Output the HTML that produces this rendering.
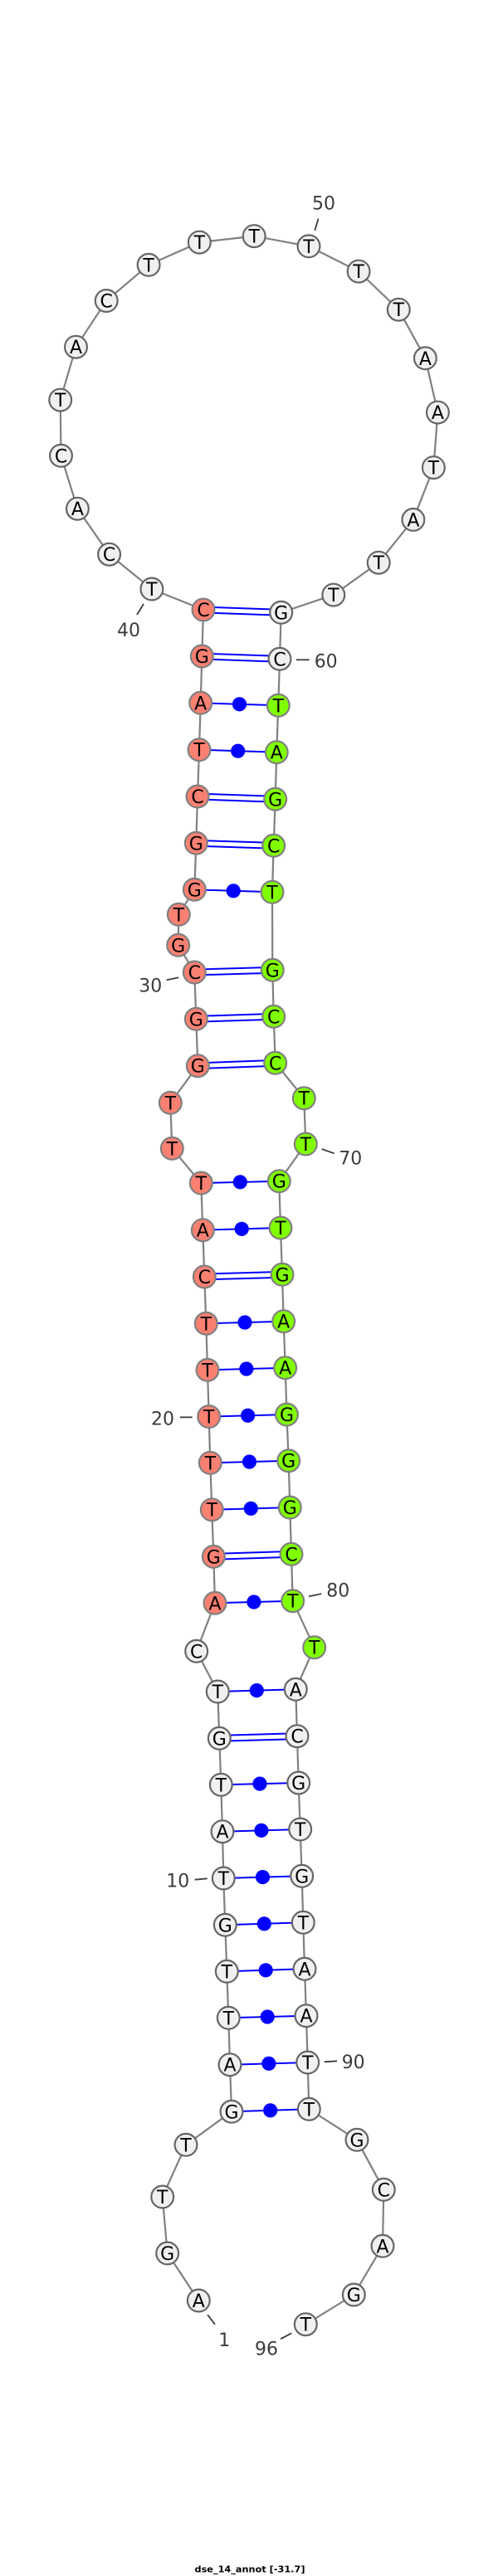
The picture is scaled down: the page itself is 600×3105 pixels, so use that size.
<!DOCTYPE html>
<html><head><meta charset="utf-8"><style>
html,body{margin:0;padding:0;background:#fff;width:600px;height:3105px;overflow:hidden}
svg{display:block}
.b{fill:none;stroke:#808080;stroke-width:2.2}
.p{stroke:#0000ff;stroke-width:2;fill:none}
.d{fill:#0000ff;stroke:none}
.n circle{stroke-width:2.2}
.w circle{fill:#f0f0f0;stroke:#666}
.s circle{fill:#fa8072;stroke:#808080}
.g circle{fill:#7fff00;stroke:#808080}
.n text{font:22px "DejaVu Sans",sans-serif;fill:#000;text-anchor:middle}
.l text{font:22px "DejaVu Sans",sans-serif;fill:#3c3c3c;text-anchor:middle}
.l line{stroke:#3c3c3c;stroke-width:1.8}
.t{font:bold 10.5px "DejaVu Sans",sans-serif;fill:#000}
</style></head><body>
<svg width="600" height="3105" viewBox="0 0 600 3105" xmlns="http://www.w3.org/2000/svg">
<polyline class="b" points="239.3,2773 201.7,2716 195.7,2648 224,2585.3 279,2545.3 277,2488.7 275.3,2432.3 273.3,2376.3 271.3,2320.3 269.3,2264 268,2207.7 266.3,2151.3 264.3,2095.3 262.3,2039 236.7,1990.3 259,1932.3 257.3,1876.3 255.3,1819.7 253.3,1763.3 251.7,1707.5 250,1651.3 248.3,1595.3 246.3,1539 244.3,1482.7 242.3,1426 207.3,1384.3 205.3,1329.3 238.3,1284.7 236.3,1228.3 234.3,1172 214.7,1139.3 215.3,1102.3 234.3,1072.3 236.3,1016.3 238,960 240,903.7 241.7,847.3 243.3,791 245,735 182.9,710 131.6,668.2 93.4,613.2 73.5,549.3 72.7,482.1 91.5,418.2 128.2,362.5 179.1,319.3 240.3,292.1 306.2,284.6 372,296.8 432.1,327.1 480.3,373.2 512.4,431.8 527.4,497.1 522.4,563.6 497.9,626.4 456.2,678.2 401.8,717.1 338.7,738.3 337,794.3 335.3,850.3 333.3,906.7 331.7,963.3 329.7,1019.3 328,1075.3 328.3,1169.3 329.7,1225.3 331.7,1281.3 366.3,1323.7 368.3,1379 336.3,1423.7 338,1480 340,1536.3 341.7,1592.7 343.7,1648.7 345.5,1705 347.7,1760.7 349.3,1817 351,1873.3 352.7,1929.7 378.7,1985.7 356.3,2036.3 358,2092.7 359.7,2149 361.7,2205 363.7,2261.3 365.3,2317.3 367,2373.3 369,2429.7 370.7,2486 372.3,2542.3 430,2579.3 462.3,2639.3 461,2707.3 426.3,2766 368.3,2801.7"/>
<path class="p" d="M245 731.6L338.7 734.9M245 738.4L338.7 741.7M243.3 787.6L337 790.9M243.3 794.4L337 797.7M238 956.6L331.7 959.9M238 963.4L331.7 966.7M236.3 1012.9L329.7 1015.9M236.3 1019.7L329.7 1022.7M234.3 1168.6L328.3 1165.9M234.3 1175.4L328.3 1172.7M236.3 1224.9L329.7 1221.9M236.3 1231.7L329.7 1228.7M238.3 1281.3L331.7 1277.9M238.3 1288.1L331.7 1284.7M246.3 1535.6L340 1532.9M246.3 1542.4L340 1539.7M257.3 1872.9L351 1869.9M257.3 1879.7L351 1876.7M264.3 2091.9L358 2089.3M264.3 2098.7L358 2096.1"/>
<path class="p" d="M241.7 847.3L335.3 850.3M240 903.7L333.3 906.7M234.3 1072.3L328 1075.3M242.3 1426L336.3 1423.7M244.3 1482.7L338 1480M248.3 1595.3L341.7 1592.7M250 1651.3L343.7 1648.7M251.7 1707.5L345.5 1705M253.3 1763.3L347.7 1760.7M255.3 1819.7L349.3 1817M259 1932.3L352.7 1929.7M262.3 2039L356.3 2036.3M266.3 2151.3L359.7 2149M268 2207.7L361.7 2205M269.3 2264L363.7 2261.3M271.3 2320.3L365.3 2317.3M273.3 2376.3L367 2373.3M275.3 2432.3L369 2429.7M277 2488.7L370.7 2486M279 2545.3L372.3 2542.3"/>
<g class="d"><circle cx="288.5" cy="848.8" r="8.6"/><circle cx="286.7" cy="905.2" r="8.6"/><circle cx="281.2" cy="1073.8" r="8.6"/><circle cx="289.3" cy="1424.8" r="8.6"/><circle cx="291.2" cy="1481.3" r="8.6"/><circle cx="295" cy="1594" r="8.6"/><circle cx="296.9" cy="1650" r="8.6"/><circle cx="298.6" cy="1706.2" r="8.6"/><circle cx="300.5" cy="1762" r="8.6"/><circle cx="302.3" cy="1818.3" r="8.6"/><circle cx="305.9" cy="1931" r="8.6"/><circle cx="309.3" cy="2037.6" r="8.6"/><circle cx="313" cy="2150.1" r="8.6"/><circle cx="314.9" cy="2206.3" r="8.6"/><circle cx="316.5" cy="2262.6" r="8.6"/><circle cx="318.3" cy="2318.8" r="8.6"/><circle cx="320.2" cy="2374.8" r="8.6"/><circle cx="322.2" cy="2431" r="8.6"/><circle cx="323.9" cy="2487.3" r="8.6"/><circle cx="325.7" cy="2543.8" r="8.6"/></g>

<g class="n w">
<circle cx="239.3" cy="2773" r="13.4"/><text x="239.3" y="2781">A</text>
<circle cx="201.7" cy="2716" r="13.4"/><text x="201.7" y="2724">G</text>
<circle cx="195.7" cy="2648" r="13.4"/><text x="195.7" y="2656">T</text>
<circle cx="224" cy="2585.3" r="13.4"/><text x="224" y="2593.3">T</text>
<circle cx="279" cy="2545.3" r="13.4"/><text x="279" y="2553.3">G</text>
<circle cx="277" cy="2488.7" r="13.4"/><text x="277" y="2496.7">A</text>
<circle cx="275.3" cy="2432.3" r="13.4"/><text x="275.3" y="2440.3">T</text>
<circle cx="273.3" cy="2376.3" r="13.4"/><text x="273.3" y="2384.3">T</text>
<circle cx="271.3" cy="2320.3" r="13.4"/><text x="271.3" y="2328.3">G</text>
<circle cx="269.3" cy="2264" r="13.4"/><text x="269.3" y="2272">T</text>
<circle cx="268" cy="2207.7" r="13.4"/><text x="268" y="2215.7">A</text>
<circle cx="266.3" cy="2151.3" r="13.4"/><text x="266.3" y="2159.3">T</text>
<circle cx="264.3" cy="2095.3" r="13.4"/><text x="264.3" y="2103.3">G</text>
<circle cx="262.3" cy="2039" r="13.4"/><text x="262.3" y="2047">T</text>
<circle cx="236.7" cy="1990.3" r="13.4"/><text x="236.7" y="1998.3">C</text>
<circle cx="182.9" cy="710" r="13.4"/><text x="182.9" y="718">T</text>
<circle cx="131.6" cy="668.2" r="13.4"/><text x="131.6" y="676.2">C</text>
<circle cx="93.4" cy="613.2" r="13.4"/><text x="93.4" y="621.2">A</text>
<circle cx="73.5" cy="549.3" r="13.4"/><text x="73.5" y="557.3">C</text>
<circle cx="72.7" cy="482.1" r="13.4"/><text x="72.7" y="490.1">T</text>
<circle cx="91.5" cy="418.2" r="13.4"/><text x="91.5" y="426.2">A</text>
<circle cx="128.2" cy="362.5" r="13.4"/><text x="128.2" y="370.5">C</text>
<circle cx="179.1" cy="319.3" r="13.4"/><text x="179.1" y="327.3">T</text>
<circle cx="240.3" cy="292.1" r="13.4"/><text x="240.3" y="300.1">T</text>
<circle cx="306.2" cy="284.6" r="13.4"/><text x="306.2" y="292.6">T</text>
<circle cx="372" cy="296.8" r="13.4"/><text x="372" y="304.8">T</text>
<circle cx="432.1" cy="327.1" r="13.4"/><text x="432.1" y="335.1">T</text>
<circle cx="480.3" cy="373.2" r="13.4"/><text x="480.3" y="381.2">T</text>
<circle cx="512.4" cy="431.8" r="13.4"/><text x="512.4" y="439.8">A</text>
<circle cx="527.4" cy="497.1" r="13.4"/><text x="527.4" y="505.1">A</text>
<circle cx="522.4" cy="563.6" r="13.4"/><text x="522.4" y="571.6">T</text>
<circle cx="497.9" cy="626.4" r="13.4"/><text x="497.9" y="634.4">A</text>
<circle cx="456.2" cy="678.2" r="13.4"/><text x="456.2" y="686.2">T</text>
<circle cx="401.8" cy="717.1" r="13.4"/><text x="401.8" y="725.1">T</text>
<circle cx="338.7" cy="738.3" r="13.4"/><text x="338.7" y="746.3">G</text>
<circle cx="337" cy="794.3" r="13.4"/><text x="337" y="802.3">C</text>
<circle cx="356.3" cy="2036.3" r="13.4"/><text x="356.3" y="2044.3">A</text>
<circle cx="358" cy="2092.7" r="13.4"/><text x="358" y="2100.7">C</text>
<circle cx="359.7" cy="2149" r="13.4"/><text x="359.7" y="2157">G</text>
<circle cx="361.7" cy="2205" r="13.4"/><text x="361.7" y="2213">T</text>
<circle cx="363.7" cy="2261.3" r="13.4"/><text x="363.7" y="2269.3">G</text>
<circle cx="365.3" cy="2317.3" r="13.4"/><text x="365.3" y="2325.3">T</text>
<circle cx="367" cy="2373.3" r="13.4"/><text x="367" y="2381.3">A</text>
<circle cx="369" cy="2429.7" r="13.4"/><text x="369" y="2437.7">A</text>
<circle cx="370.7" cy="2486" r="13.4"/><text x="370.7" y="2494">T</text>
<circle cx="372.3" cy="2542.3" r="13.4"/><text x="372.3" y="2550.3">T</text>
<circle cx="430" cy="2579.3" r="13.4"/><text x="430" y="2587.3">G</text>
<circle cx="462.3" cy="2639.3" r="13.4"/><text x="462.3" y="2647.3">C</text>
<circle cx="461" cy="2707.3" r="13.4"/><text x="461" y="2715.3">A</text>
<circle cx="426.3" cy="2766" r="13.4"/><text x="426.3" y="2774">G</text>
<circle cx="368.3" cy="2801.7" r="13.4"/><text x="368.3" y="2809.7">T</text>
</g>
<g class="n s">
<circle cx="259" cy="1932.3" r="13.4"/><text x="259" y="1940.3">A</text>
<circle cx="257.3" cy="1876.3" r="13.4"/><text x="257.3" y="1884.3">G</text>
<circle cx="255.3" cy="1819.7" r="13.4"/><text x="255.3" y="1827.7">T</text>
<circle cx="253.3" cy="1763.3" r="13.4"/><text x="253.3" y="1771.3">T</text>
<circle cx="251.7" cy="1707.5" r="13.4"/><text x="251.7" y="1715.5">T</text>
<circle cx="250" cy="1651.3" r="13.4"/><text x="250" y="1659.3">T</text>
<circle cx="248.3" cy="1595.3" r="13.4"/><text x="248.3" y="1603.3">T</text>
<circle cx="246.3" cy="1539" r="13.4"/><text x="246.3" y="1547">C</text>
<circle cx="244.3" cy="1482.7" r="13.4"/><text x="244.3" y="1490.7">A</text>
<circle cx="242.3" cy="1426" r="13.4"/><text x="242.3" y="1434">T</text>
<circle cx="207.3" cy="1384.3" r="13.4"/><text x="207.3" y="1392.3">T</text>
<circle cx="205.3" cy="1329.3" r="13.4"/><text x="205.3" y="1337.3">T</text>
<circle cx="238.3" cy="1284.7" r="13.4"/><text x="238.3" y="1292.7">G</text>
<circle cx="236.3" cy="1228.3" r="13.4"/><text x="236.3" y="1236.3">G</text>
<circle cx="234.3" cy="1172" r="13.4"/><text x="234.3" y="1180">C</text>
<circle cx="214.7" cy="1139.3" r="13.4"/><text x="214.7" y="1147.3">G</text>
<circle cx="215.3" cy="1102.3" r="13.4"/><text x="215.3" y="1110.3">T</text>
<circle cx="234.3" cy="1072.3" r="13.4"/><text x="234.3" y="1080.3">G</text>
<circle cx="236.3" cy="1016.3" r="13.4"/><text x="236.3" y="1024.3">G</text>
<circle cx="238" cy="960" r="13.4"/><text x="238" y="968">C</text>
<circle cx="240" cy="903.7" r="13.4"/><text x="240" y="911.7">T</text>
<circle cx="241.7" cy="847.3" r="13.4"/><text x="241.7" y="855.3">A</text>
<circle cx="243.3" cy="791" r="13.4"/><text x="243.3" y="799">G</text>
<circle cx="245" cy="735" r="13.4"/><text x="245" y="743">C</text>
</g>
<g class="n g">
<circle cx="335.3" cy="850.3" r="13.4"/><text x="335.3" y="858.3">T</text>
<circle cx="333.3" cy="906.7" r="13.4"/><text x="333.3" y="914.7">A</text>
<circle cx="331.7" cy="963.3" r="13.4"/><text x="331.7" y="971.3">G</text>
<circle cx="329.7" cy="1019.3" r="13.4"/><text x="329.7" y="1027.3">C</text>
<circle cx="328" cy="1075.3" r="13.4"/><text x="328" y="1083.3">T</text>
<circle cx="328.3" cy="1169.3" r="13.4"/><text x="328.3" y="1177.3">G</text>
<circle cx="329.7" cy="1225.3" r="13.4"/><text x="329.7" y="1233.3">C</text>
<circle cx="331.7" cy="1281.3" r="13.4"/><text x="331.7" y="1289.3">C</text>
<circle cx="366.3" cy="1323.7" r="13.4"/><text x="366.3" y="1331.7">T</text>
<circle cx="368.3" cy="1379" r="13.4"/><text x="368.3" y="1387">T</text>
<circle cx="336.3" cy="1423.7" r="13.4"/><text x="336.3" y="1431.7">G</text>
<circle cx="338" cy="1480" r="13.4"/><text x="338" y="1488">T</text>
<circle cx="340" cy="1536.3" r="13.4"/><text x="340" y="1544.3">G</text>
<circle cx="341.7" cy="1592.7" r="13.4"/><text x="341.7" y="1600.7">A</text>
<circle cx="343.7" cy="1648.7" r="13.4"/><text x="343.7" y="1656.7">A</text>
<circle cx="345.5" cy="1705" r="13.4"/><text x="345.5" y="1713">G</text>
<circle cx="347.7" cy="1760.7" r="13.4"/><text x="347.7" y="1768.7">G</text>
<circle cx="349.3" cy="1817" r="13.4"/><text x="349.3" y="1825">G</text>
<circle cx="351" cy="1873.3" r="13.4"/><text x="351" y="1881.3">C</text>
<circle cx="352.7" cy="1929.7" r="13.4"/><text x="352.7" y="1937.7">T</text>
<circle cx="378.7" cy="1985.7" r="13.4"/><text x="378.7" y="1993.7">T</text>
</g>
<g class="l">
<line x1="383.5" y1="263.6" x2="379.3" y2="277.9"/><text x="390" y="252.6">50</text>
<line x1="173" y1="728" x2="165" y2="741"/><text x="155" y="767">40</text>
<line x1="357" y1="795.3" x2="372.7" y2="795.3"/><text x="392.7" y="804.7">60</text>
<line x1="200.7" y1="1181.3" x2="215.3" y2="1178.3"/><text x="181.3" y="1195.7">30</text>
<line x1="387.7" y1="1385" x2="402.7" y2="1390.3"/><text x="422.3" y="1403.3">70</text>
<line x1="217" y1="1708.3" x2="231.7" y2="1708.3"/><text x="196" y="1717.3">20</text>
<line x1="372" y1="1924.3" x2="387.3" y2="1921"/><text x="407.3" y="1924.7">80</text>
<line x1="234.7" y1="2265.7" x2="249.7" y2="2264.3"/><text x="214.3" y="2274.7">10</text>
<line x1="390.7" y1="2485.3" x2="406" y2="2484.3"/><text x="425.7" y="2493">90</text>
<line x1="250" y1="2790" x2="259" y2="2801.7"/><text x="270.3" y="2828">1</text>
<line x1="338" y1="2819.3" x2="351.3" y2="2812.3"/><text x="321" y="2838.3">96</text>
</g>
<text class="t" x="234.5" y="3100.5" textLength="133" lengthAdjust="spacingAndGlyphs">dse_14_annot [-31.7]</text>
</svg>
</body></html>
